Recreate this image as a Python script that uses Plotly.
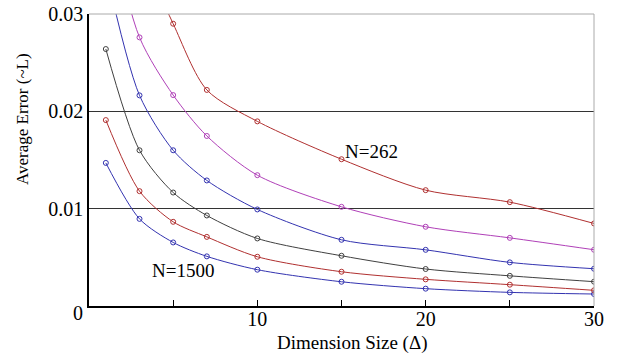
import plotly.graph_objects as go

# Dimension sizes
x_vals = [1, 3, 5, 7, 10, 15, 20, 25, 30]

# Series (bottom to top)
s_1500 = [0.0147, 0.00895, 0.00653, 0.0051, 0.00373, 0.00249, 0.00178, 0.0014, 0.00123]
s_red2 = [0.0191, 0.0118, 0.00865, 0.0071, 0.00506, 0.00352, 0.00274, 0.00219, 0.00161]
s_black = [0.0264, 0.0160, 0.01166, 0.0093, 0.00694, 0.00516, 0.0038, 0.0031, 0.0025]
s_blue2 = [0.0345, 0.02164, 0.0160, 0.0129, 0.00992, 0.0068, 0.00577, 0.00448, 0.00383]
s_mag = [0.041, 0.0276, 0.02167, 0.01747, 0.01344, 0.01019, 0.00814, 0.0070, 0.00578]
s_262 = [0.050, 0.037, 0.0290, 0.0222, 0.01897, 0.01508, 0.0119, 0.01067, 0.00848]

series = [
    (s_1500, "#3333b0"),
    (s_red2, "#b03030"),
    (s_black, "#404040"),
    (s_blue2, "#3333b0"),
    (s_mag, "#b040b8"),
    (s_262, "#b03030"),
]

x_tickvals = [5, 10, 15, 20, 25, 30]
x_ticktext = ["", "10", "", "20", "", "30"]
y_tickvals = [0, 0.01, 0.02, 0.03]
y_ticktext = ["", "0.01", "0.02", "0.03"]

FONT = "Liberation Serif"

fig = go.Figure()
for ys, col in series:
    fig.add_trace(go.Scatter(
        x=x_vals, y=ys, mode="lines+markers",
        line=dict(color=col, width=1, shape="spline", smoothing=0.8),
        marker=dict(symbol="circle-open", size=5, color=col, line=dict(width=1, color=col)),
        showlegend=False,
    ))

fig.add_annotation(x=16.8, y=0.0159, text="N=262", showarrow=False,
                   font=dict(family=FONT, size=19, color="black"))
fig.add_annotation(x=5.6, y=0.0036, text="N=1500", showarrow=False,
                   font=dict(family=FONT, size=19, color="black"))
# y "0" label sits slightly below the axis
fig.add_annotation(xref="paper", yref="paper", x=-0.008, y=-0.024, text="0",
                   showarrow=False, xanchor="right", yanchor="middle",
                   font=dict(family=FONT, size=20, color="black"))
# axis titles
fig.add_annotation(xref="paper", yref="paper", x=0.52, y=-0.128, text="Dimension Size (\u0394)",
                   showarrow=False, xanchor="center", yanchor="middle",
                   font=dict(family=FONT, size=19, color="black"))
fig.add_annotation(xref="paper", yref="paper", x=-0.133, y=0.64, text="Average Error (~L)",
                   showarrow=False, textangle=-90, xanchor="center", yanchor="middle",
                   font=dict(family=FONT, size=17, color="black"))

# top and right light borders
fig.add_shape(type="line", xref="paper", yref="paper", x0=0, x1=1, y0=1, y1=1,
              line=dict(color="#aaaaaa", width=1))
fig.add_shape(type="line", xref="paper", yref="paper", x0=1, x1=1, y0=0, y1=1,
              line=dict(color="#aaaaaa", width=1))

fig.update_layout(
    width=621, height=363,
    margin=dict(l=89, r=27, t=14, b=57, autoexpand=False),
    plot_bgcolor="white", paper_bgcolor="white",
    font=dict(family=FONT, size=20, color="black"),
    xaxis=dict(
        range=[0, 30], tickvals=x_tickvals, ticktext=x_ticktext,
        ticks="inside", ticklen=6, tickcolor="black", tickwidth=1,
        showline=True, linecolor="black", linewidth=1.5,
        showgrid=False, zeroline=False, automargin=False,
        ticklabelstandoff=-6,
        tickfont=dict(family=FONT, size=20),
    ),
    yaxis=dict(
        range=[0, 0.03], tickvals=y_tickvals, ticktext=y_ticktext,
        ticks="", showline=True, linecolor="black", linewidth=1.5,
        showgrid=True, gridcolor="#333333", gridwidth=1, zeroline=False,
        automargin=False,
        tickfont=dict(family=FONT, size=20),
    ),
)

fig.write_html("out.html", config={"displayModeBar": False},
               post_script="document.body.style.margin='0';")
